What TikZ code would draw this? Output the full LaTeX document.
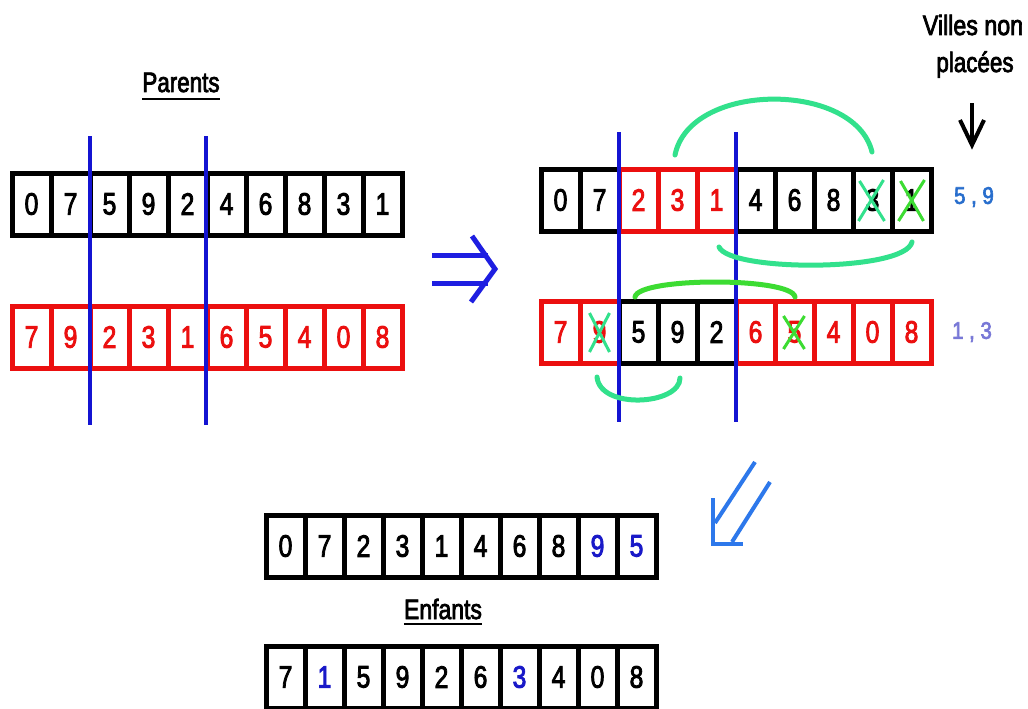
\documentclass[tikz,border=0pt]{standalone}
\usepackage{fontspec}
\setmainfont{Liberation Sans}
\newfontfamily\semibold[FakeBold=3]{Liberation Sans}
\usetikzlibrary{calc}
\definecolor{cred}{RGB}{235,15,15}
\definecolor{cblue}{RGB}{20,20,210}
\definecolor{cmint}{RGB}{50,225,140}
\definecolor{clime}{RGB}{60,220,50}
\definecolor{carrow}{RGB}{30,30,225}
\definecolor{carrowb}{RGB}{45,120,235}
\definecolor{cfivenine}{RGB}{40,110,205}
\definecolor{conethree}{RGB}{120,120,215}
\definecolor{cchild}{RGB}{25,25,200}
\newcommand\dg[1]{\scalebox{0.8}[1]{#1}}
\newcommand\cellrow[4]{%
  \foreach \d/\tc/\bc [count=\i from 0] in {#4} {
    \node[cellbox, draw=\bc, text=\tc] (#1\i) at ({#2+39*\i+19.5},{#3+31}) {\dg{\d}};
  }}
\begin{document}
\begin{tikzpicture}[x=1pt,y=-1pt,
  cellbox/.style={rectangle, minimum width=39pt, minimum height=62pt, inner sep=0pt,
    line width=5pt, font=\fontsize{31}{31}\semibold},
  lbl/.style={font=\fontsize{28}{28}\semibold, inner sep=0pt},
  cutline/.style={cblue, line width=3.2pt},
  crossm/.style={cmint, line width=3pt},
  crossl/.style={clime, line width=3pt},
  arc/.style={line width=5pt, line cap=round},
  uline/.style={line width=2.5pt}
]
\useasboundingbox (0,0) rectangle (1028,709);
\fill[white] (0,0) rectangle (1028,709);

% ---------- Parents ----------
\node[lbl, anchor=base] (parents) at (181,92) {\scalebox{0.8}[1]{Parents}};
\draw[uline] ($(parents.base west)+(0,7)$) -- ($(parents.base east)+(0,7)$);

\cellrow{pa}{12}{173}{0/black/black,7/black/black,5/black/black,9/black/black,2/black/black,4/black/black,6/black/black,8/black/black,3/black/black,1/black/black}
\cellrow{pb}{12}{306}{7/cred/cred,9/cred/cred,2/cred/cred,3/cred/cred,1/cred/cred,6/cred/cred,5/cred/cred,4/cred/cred,0/cred/cred,8/cred/cred}

\coordinate (c1t) at (90,136);  \coordinate (c1b) at (90,425);
\coordinate (c2t) at (206,136); \coordinate (c2b) at (206,425);
\draw[cutline] (c1t) -- (c1b);
\draw[cutline] (c2t) -- (c2b);

% ---------- double arrow ----------
\draw[carrow, line width=5pt] (432,255) -- (488,255);
\draw[carrow, line width=5pt] (432,283) -- (488,283);
\draw[carrow, line width=5pt, line join=miter] (472,236) -- (495,269) -- (471,302);

% ---------- right part ----------
\cellrow{ra}{541}{169}{0/black/black,7/black/black,2/cred/cred,3/cred/cred,1/cred/cred,4/black/black,6/black/black,8/black/black,3/black/black,1/black/black}
\cellrow{rb}{541}{301}{7/cred/cred,9/cred/cred,5/black/black,9/black/black,2/black/black,6/cred/cred,5/cred/cred,4/cred/cred,0/cred/cred,8/cred/cred}

% crosses
\draw[crossm] ($(ra8)+(-13,-19)$) -- ($(ra8)+(12,21)$);
\draw[crossm] ($(ra8)+(11,-20)$) -- ($(ra8)+(-14,21)$);
\draw[crossl] ($(ra9)+(-11,-19)$) -- ($(ra9)+(12,21)$);
\draw[crossl] ($(ra9)+(13,-20)$) -- ($(ra9)+(-13,21)$);
\draw[crossm] ($(rb1)+(-10,-19)$) -- ($(rb1)+(10,20)$);
\draw[crossm] ($(rb1)+(10,-19)$) -- ($(rb1)+(-10,20)$);
\draw[crossl] ($(rb6)+(-11,-16)$) -- ($(rb6)+(10,17)$);
\draw[crossl] ($(rb6)+(10,-16)$) -- ($(rb6)+(-11,17)$);

\coordinate (d1t) at (619,132); \coordinate (d1b) at (619,422);
\coordinate (d2t) at (736,132); \coordinate (d2b) at (736,422);
\draw[cutline] (d1t) -- (d1b);
\draw[cutline] (d2t) -- (d2b);

% green arcs
\draw[arc, cmint] (675,155) .. controls (690,81) and (855,81) .. (872,152);
\draw[arc, cmint] (719,247) .. controls (730,272) and (905,272) .. (912,242);
\draw[arc, clime] (635,297) .. controls (638,277) and (792,277) .. (795,297);
\draw[arc, cmint] (597,377) .. controls (600,410) and (680,405) .. (680,378);

% Villes non placees
\node[lbl, anchor=base] (villes) at (973,35) {\scalebox{0.83}[1]{Villes non}};
\node[lbl, anchor=base] (placees) at (975,72) {\scalebox{0.8}[1]{placées}};
\coordinate (vat) at (972,103);
\coordinate (vab) at (972,143);
\draw[black, line width=4pt] (vat) -- (vab);
\draw[black, line width=4pt, line join=miter] (960,120) -- (972,145) -- (984,120);

\node[font=\fontsize{24}{24}\semibold, text=cfivenine, inner sep=0pt] (fn) at (974,197) {\scalebox{0.85}[1]{5 , 9}};
\node[font=\fontsize{24}{24}\semibold, text=conethree, inner sep=0pt] (ot) at (972,332) {\scalebox{0.85}[1]{1 , 3}};

% ---------- down-left arrow ----------
\draw[carrowb, line width=4pt] (755,462) -- (715,523);
\draw[carrowb, line width=4pt] (770,482) -- (732,542);
\draw[carrowb, line width=4pt, line join=miter] (713,498) -- (713,544) -- (743,544);

% ---------- Enfants ----------
\cellrow{ea}{266}{515}{0/black/black,7/black/black,2/black/black,3/black/black,1/black/black,4/black/black,6/black/black,8/black/black,9/cchild/black,5/cchild/black}
\node[lbl, anchor=base] (enfants) at (443,619) {\scalebox{0.82}[1]{Enfants}};
\draw[uline] ($(enfants.base west)+(0,5)$) -- ($(enfants.base east)+(0,5)$);
\cellrow{eb}{266}{646}{7/black/black,1/cchild/black,5/black/black,9/black/black,2/black/black,6/black/black,3/cchild/black,4/black/black,0/black/black,8/black/black}
\end{tikzpicture}
\end{document}
